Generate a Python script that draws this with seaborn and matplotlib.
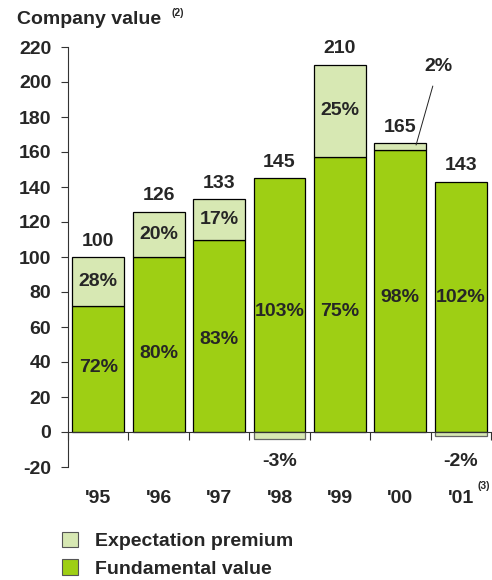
import numpy as np
import pandas as pd
import matplotlib
matplotlib.use("Agg")
import matplotlib.pyplot as plt
import seaborn as sns
from matplotlib.patches import Patch

years = ["'95", "'96", "'97", "'98", "'99", "'00", "'01"]
totals = [100, 126, 133, 145, 210, 165, 143]
fundamental = [72, 100, 110, 145, 157, 161, 143]
premium = [28, 26, 23, -4, 53, 4, -2]
fund_pct = ["72%", "80%", "83%", "103%", "75%", "98%", "102%"]
prem_pct = ["28%", "20%", "17%", "-3%", "25%", "2%", "-2%"]
y_ticks = [-20, 0, 20, 40, 60, 80, 100, 120, 140, 160, 180, 200, 220]

# label placement (layout only)
fund_label_y = [37, 45, 53, 69, 69, 77, 77]

sns.set_style("white")
plt.rcParams["font.family"] = ["Liberation Sans", "DejaVu Sans"]
plt.rcParams["font.weight"] = "bold"

C_FUND = "#9ecf14"
C_PREM = "#d7e8b3"

df = pd.DataFrame({"year": years, "fund": fundamental, "prem": premium})
prem_bottom = np.where(np.array(premium) > 0, np.array(fundamental), 0)

fig = plt.figure(figsize=(4.92, 5.80), dpi=100)
ax = fig.add_axes([68/492, 1-467/580, (491-68)/492, (467-47)/580])

sns.barplot(data=df, x="year", y="fund", color=C_FUND, saturation=1, width=0.86,
            edgecolor="black", linewidth=0.9, ax=ax)
sns.barplot(data=df, x="year", y="prem", color=C_PREM, saturation=1, width=0.86,
            edgecolor="black", linewidth=0.9, ax=ax, bottom=prem_bottom)
for i, p in enumerate(premium):
    if p < 0:
        ax.patches[len(years) + i].set_edgecolor("#666666")

ax.set_xlim(-0.5, 6.5)
ax.set_ylim(-20, 220)
ax.set_xlabel("")
ax.set_ylabel("")
fs = 14
ax.set_yticks(y_ticks)
ax.set_yticklabels([str(v) for v in y_ticks], fontsize=fs, fontweight="bold")
ax.tick_params(axis="y", direction="out", length=5, width=0.8, pad=7, left=True, color="#333333")

for s in ["top", "right"]:
    ax.spines[s].set_visible(False)
ax.spines["bottom"].set_position(("data", 0))
ax.spines["left"].set_color("#333333")
ax.spines["bottom"].set_color("#333333")
ax.spines["left"].set_linewidth(0.8)
ax.spines["bottom"].set_linewidth(0.8)
ax.set_xticks(np.arange(-0.5, 7.0, 1.0))
ax.set_xticklabels([])
ax.tick_params(axis="x", direction="out", length=6, width=0.8, bottom=True, color="#333333")

for i in range(len(years)):
    ax.text(i, totals[i] + 9, str(totals[i]), ha="center", va="center", fontsize=fs, fontweight="bold")
    ax.text(i, fund_label_y[i], fund_pct[i], ha="center", va="center", fontsize=fs, fontweight="bold")
    ax.text(i, -38, years[i], ha="center", va="center", fontsize=fs, fontweight="bold", clip_on=False)
    p = premium[i]
    if p > 10:
        ax.text(i, fundamental[i] + p / 2, prem_pct[i], ha="center", va="center", fontsize=fs, fontweight="bold")
    elif p < 0:
        ax.text(i, -17, prem_pct[i], ha="center", va="center", fontsize=fs, fontweight="bold", clip_on=False)
    elif p > 0:
        ax.annotate(prem_pct[i], xy=(i + 0.26, fundamental[i] + p / 2 + 1), xytext=(i + 0.63, 209),
                    ha="center", va="center", fontsize=fs, fontweight="bold",
                    arrowprops=dict(arrowstyle="-", lw=0.7, color="#222222", shrinkA=6, shrinkB=0),
                    annotation_clip=False)

ax.text(6.38, -31, "(3)", ha="center", va="center", fontsize=7.5, fontweight="bold", clip_on=False)

fig.text(17/492, 1 - 20/580, "Company value", ha="left", va="center", fontsize=fs, fontweight="bold")
fig.text(171/492, 1 - 13/580, "(2)", ha="left", va="center", fontsize=7.5, fontweight="bold")

handles = [Patch(facecolor=C_PREM, edgecolor="#555555", linewidth=0.8, label="Expectation premium"),
           Patch(facecolor=C_FUND, edgecolor="#555555", linewidth=0.8, label="Fundamental value")]
leg = fig.legend(handles=handles, loc="upper left", bbox_to_anchor=(56/492, 1 - 526/580),
                 frameon=False, fontsize=fs, handlelength=0.85, handleheight=0.85,
                 handletextpad=0.85, labelspacing=0.45, borderaxespad=0, borderpad=0.3)
for t in leg.get_texts():
    t.set_fontweight("bold")

fig.savefig("out.png", dpi=100)
